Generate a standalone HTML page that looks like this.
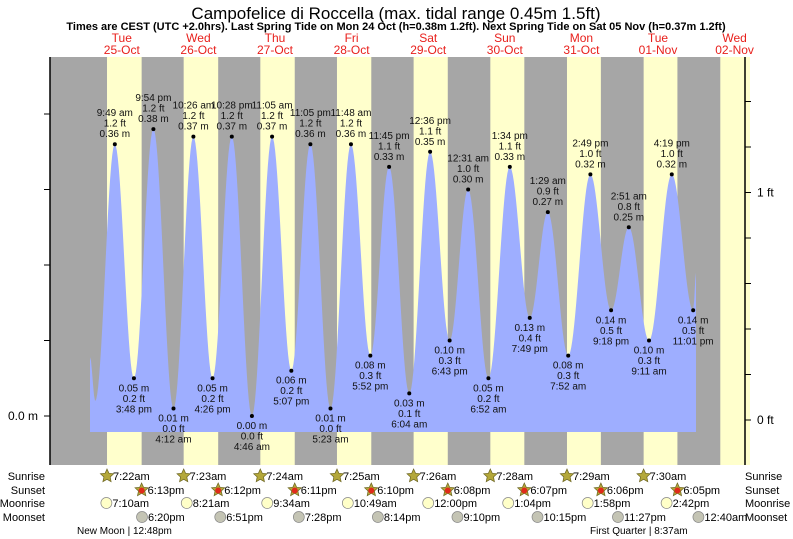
<!DOCTYPE html>
<html><head><meta charset="utf-8"><style>
body{margin:0;background:#fff;}
svg{display:block;font-family:"Liberation Sans",sans-serif;}
</style></head><body>
<svg id="c" width="793" height="539" viewBox="0 0 793 539">
<text x="396" y="19" font-size="17" text-anchor="middle">Campofelice di Roccella (max. tidal range 0.45m 1.5ft)</text>
<text x="396" y="30" font-size="11" font-weight="bold" text-anchor="middle">Times are CEST (UTC +2.0hrs). Last Spring Tide on Mon 24 Oct (h=0.38m 1.2ft). Next Spring Tide on Sat 05 Nov (h=0.37m 1.2ft)</text>
<g id="bg"></g><g id="tide"></g><g id="labels"></g><g id="axes"></g><g id="bottom"></g>
</svg>
<script>
const dayNames=["Tue","Wed","Thu","Fri","Sat","Sun","Mon","Tue","Wed"];
const dayDates=["25-Oct","26-Oct","27-Oct","28-Oct","29-Oct","30-Oct","31-Oct","01-Nov","02-Nov"];
const sunrise=["7:22am","7:23am","7:24am","7:25am","7:26am","7:28am","7:29am","7:30am","7:31am"];
const sunset=["6:13pm","6:12pm","6:11pm","6:10pm","6:08pm","6:07pm","6:06pm","6:05pm"];
const moonrise=["7:10am","8:21am","9:34am","10:49am","12:00pm","1:04pm","1:58pm","2:42pm"];
const moonset=["6:20pm","6:51pm","7:28pm","8:14pm","9:10pm","10:15pm","11:27pm","12:40am"];
const moonsetDay=[0,1,2,3,4,5,6,8];
const tideDay=[0,0,0,0,0,1,1,1,1,2,2,2,2,3,3,3,3,4,4,4,5,5,5,5,6,6,6,6,7,7,7,7,7];
const tideTime=["2:02am","3:40am","9:49am","3:48pm","9:54pm","4:12am","10:26am","4:26pm","10:28pm","4:46am","11:05am","5:07pm","11:05pm","5:23am","11:48am","5:52pm","11:45pm","6:04am","12:36pm","6:43pm","12:31am","6:52am","1:34pm","7:49pm","1:29am","7:52am","2:49pm","9:18pm","2:51am","9:11am","4:19pm","11:01pm","11:55pm"];
const tideM=[0.078,0.02,0.36,0.05,0.38,0.01,0.37,0.05,0.37,0.00,0.37,0.06,0.36,0.01,0.36,0.08,0.33,0.03,0.35,0.10,0.30,0.05,0.33,0.13,0.27,0.08,0.32,0.14,0.25,0.10,0.32,0.14,0.19];
const tideFt=["","","1.2","0.2","1.2","0.0","1.2","0.2","1.2","0.0","1.2","0.2","1.2","0.0","1.2","0.3","1.1","0.1","1.1","0.3","1.0","0.2","1.1","0.4","0.9","0.3","1.0","0.5","0.8","0.3","1.0","0.5",""];

const NS="http://www.w3.org/2000/svg";
const X0=83.5,PXD=76.6,PL=50,PR=745,PT=57,PB=465;
function xOf(d,h){return X0+(d+h/24)*PXD;}
function yOf(m){return 416-755*m;}
function hrs(t){const m=t.match(/(\d+):(\d+)(am|pm)/);let h=+m[1]%12;if(m[3]=="pm")h+=12;return h+(+m[2])/60;}
function mk(tag,attrs,parent,txt){const e=document.createElementNS(NS,tag);for(const k in attrs)e.setAttribute(k,attrs[k]);if(txt!==undefined)e.textContent=txt;parent.appendChild(e);return e;}
const bg=document.getElementById('bg'),tide=document.getElementById('tide'),lab=document.getElementById('labels'),ax=document.getElementById('axes'),bot=document.getElementById('bottom');

let r=mk('rect',{x:PL,y:PT,width:750-PL,height:PB-PT,fill:'#a6a6a6'},bg);


for(let d=0;d<9;d++){
  const x1=xOf(d,hrs(sunrise[d]));
  const x2=d<sunset.length?xOf(d,hrs(sunset[d])):750;
  const y=mk('rect',{x:x1,y:PT,width:Math.min(x2,750)-x1,height:PB-PT,fill:'#ffffcc'},bg);
  
  
  const cx=xOf(d,12);
  const t1=mk('text',{x:cx,y:42,'font-size':12,fill:'#e8201c','text-anchor':'middle'},bg,dayNames[d]);
  
  
  const t2=mk('text',{x:cx,y:54,'font-size':12,fill:'#e8201c','text-anchor':'middle'},bg,dayDates[d]);
  
  
}
const px=tideDay.map((d,i)=>xOf(d,hrs(tideTime[i])));
let pts=[[px[0],432]];
for(let i=0;i<px.length-1;i++){
  const a=px[i],b=px[i+1];
  for(let x=a;x<b;x+=1){const f=(1-Math.cos(Math.PI*(x-a)/(b-a)))/2;pts.push([x,yOf(tideM[i]+(tideM[i+1]-tideM[i])*f)]);}
}
pts.push([px[px.length-1],yOf(tideM[tideM.length-1])]);
pts.push([px[px.length-1],432]);
const tp=mk('path',{d:'M'+pts.map(p=>p[0].toFixed(1)+','+p[1].toFixed(1)).join(' L')+' Z',fill:'#9eaeff'},tide);


for(let i=2;i<px.length-1;i++){
  const x=px[i],y=yOf(tideM[i]),hi=tideM[i]>tideM[i-1];
  const dot=mk('circle',{cx:x,cy:y,r:2,fill:'#000'},lab);
  
  
  const lines=hi?[tideTime[i].replace(/(am|pm)/,' $1'),tideFt[i]+' ft',tideM[i].toFixed(2)+' m']:[tideM[i].toFixed(2)+' m',tideFt[i]+' ft',tideTime[i].replace(/(am|pm)/,' $1')];
  const y0=hi?y-28:y+13;
  lines.forEach((s,k)=>{const t=mk('text',{x:x,y:y0+k*10.5,'font-size':10,fill:'#111','text-anchor':'middle'},lab,s);
    
    });
}
mk('line',{x1:PL,y1:PT,x2:PL,y2:PB,stroke:'#000','stroke-width':1.5},ax);
mk('line',{x1:PR,y1:PT,x2:PR,y2:PB,stroke:'#000','stroke-width':1.5},ax);
for(let k=0;k<=4;k++){const y=yOf(k*0.1);mk('line',{x1:PL-6,y1:y,x2:PL,y2:y,stroke:'#000'},ax);}
const ly=mk('text',{x:38,y:420,'font-size':12,'text-anchor':'end'},ax,'0.0 m');


for(let k=0;k<=7;k++){const y=420-k*45.5;mk('line',{x1:PR,y1:y,x2:PR+6,y2:y,stroke:'#000'},ax);}
['0 ft','1 ft'].forEach((s,k)=>{const t=mk('text',{x:757,y:424-k*227.5,'font-size':12},ax,s);
  
  });
const rowNames=["Sunrise","Sunset","Moonrise","Moonset"],rowY=[476,490,503,517];
rowNames.forEach((n,k)=>{
  const a=mk('text',{x:45,y:rowY[k]+4,'font-size':11,'text-anchor':'end'},bot,n);
  
  
  const b=mk('text',{x:745,y:rowY[k]+4,'font-size':11},bot,n);
  
  
});
function star(cx,cy,fill,inner){let d='';for(let i=0;i<10;i++){const rr=i%2?3.3:7,a=-Math.PI/2+i*Math.PI/5;d+=(i?'L':'M')+(cx+rr*Math.cos(a)).toFixed(1)+','+(cy+rr*Math.sin(a)).toFixed(1);}
  const g=mk('g',{},bot);mk('path',{d:d+'Z',fill:fill,stroke:'#6b6420','stroke-width':0.7},g);if(inner)mk('circle',{cx:cx,cy:cy+0.5,r:3,fill:inner},g);return g;}
function icon(type,x,y,txt){
  let g;
  if(type==0)g=star(x,y,'#b4a83a');
  else if(type==1)g=star(x,y,'#b4a83a','#e02a1a');
  else {g=mk('g',{},bot);mk('circle',{cx:x,cy:y,r:5.5,fill:type==2?'#ffffc8':'#c4c4b4',stroke:'#888','stroke-width':0.7},g);}
  mk('text',{x:x+6,y:y+4,'font-size':11},g,txt);
  return g;
}
for(let d=0;d<8;d++){
  let g=icon(0,xOf(d,hrs(sunrise[d])),rowY[0],sunrise[d]);
  
  
  g=icon(1,xOf(d,hrs(sunset[d])),rowY[1],sunset[d]);
  
  
  g=icon(2,xOf(d,hrs(moonrise[d])),rowY[2],moonrise[d]);
  
  
  g=icon(3,xOf(moonsetDay[d],hrs(moonset[d])),rowY[3],moonset[d]);
  
  
}
let m1=mk('text',{x:77,y:534,'font-size':10},bot,'New Moon | 12:48pm');


let m2=mk('text',{x:590,y:534,'font-size':10},bot,'First Quarter | 8:37am');


</script>
</body></html>
